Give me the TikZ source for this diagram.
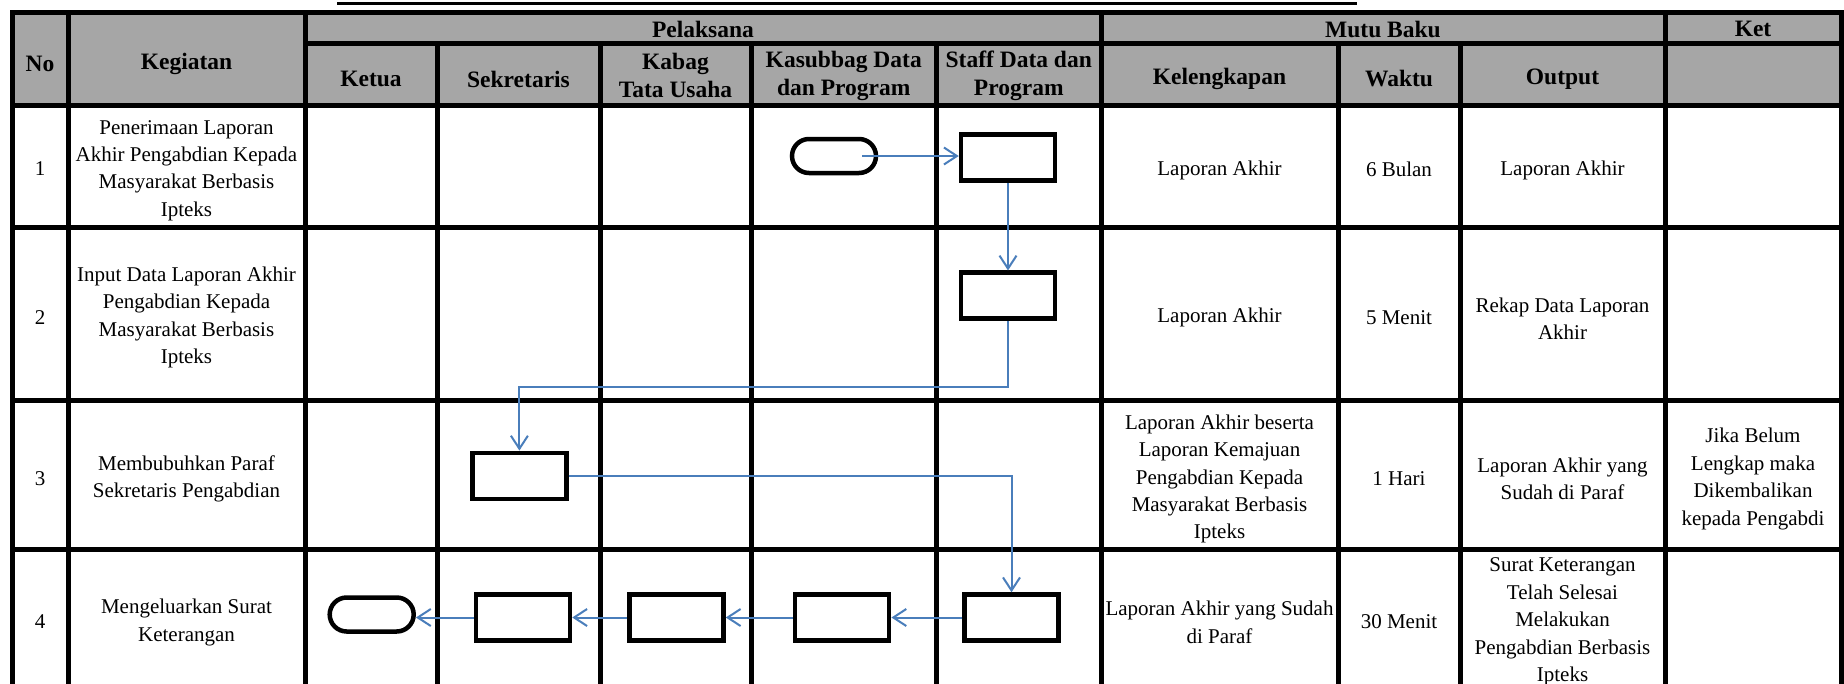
\documentclass[tikz,border=0pt]{standalone}
\usepackage{fontspec}
\setmainfont{Liberation Serif}
\usetikzlibrary{arrows.meta}
\definecolor{hdr}{RGB}{166,166,166}
\definecolor{flowblue}{RGB}{74,126,187}
\begin{document}
\begin{tikzpicture}[x=1pt,y=-1pt,
  gridline/.style={line width=5pt,line cap=rect},
  hd/.style={font=\fontsize{23.5}{28}\selectfont\bfseries,align=center,inner sep=0pt},
  bd/.style={font=\fontsize{21}{27.4}\selectfont,align=center,inner sep=0pt},
  procbox/.style={draw=black,line width=4.5pt,fill=white,minimum width=94pt,minimum height=46pt,inner sep=0pt},
  termbox/.style={draw=black,line width=4.5pt,fill=white,rounded corners=17pt,minimum width=84pt,minimum height=34pt,inner sep=0pt},
  flow/.style={draw=flowblue,line width=2pt,-{Straight Barb[length=13pt,width=17pt]}}
]
\useasboundingbox (0,0) rectangle (1844,683);
\clip (0,0) rectangle (1844,683);
\fill[white] (0,0) rectangle (1844,683);
% header background
\fill[hdr] (12,12) rectangle (1841,105);
% decorative top line
\draw[line width=3pt] (337,3.5) -- (1357,3.5);
% horizontal grid lines
\draw[gridline] (12,12) -- (1841,12);
\draw[gridline] (305,43.5) -- (1841,43.5);
\foreach \yy in {105,227,400,549} \draw[gridline] (12,\yy) -- (1841,\yy);
% vertical grid lines
\foreach \xx in {12,68,305,1101,1665,1841} \draw[gridline] (\xx,12) -- (\xx,690);
\foreach \xx in {437,600,751,936.5,1338,1460} \draw[gridline] (\xx,43.5) -- (\xx,690);

% header texts
\node[hd] (hNo) at (40,64) {No};
\node[hd] (hKeg) at (186.5,64) {Kegiatan};
\node[hd] (hPel) at (703,29) {Pelaksana};
\node[hd] (hMutu) at (1383,29) {Mutu Baku};
\node[hd] (hKet) at (1753,29) {Ket};
\node[hd] (hKetua) at (371,79) {Ketua};
\node[hd] (hSek) at (518.5,79) {Sekretaris};
\node[hd] (hKabag) at (675.5,75.5) {Kabag\\Tata Usaha};
\node[hd] (hKasub) at (843.75,75.5) {Kasubbag Data\\dan Program};
\node[hd] (hStaff) at (1018.75,75.5) {Staff Data dan\\Program};
\node[hd] (hKel) at (1219.5,79) {Kelengkapan};
\node[hd] (hWaktu) at (1399,79) {Waktu};
\node[hd] (hOut) at (1562.5,79) {Output};

% row 1
\node[bd] (n1) at (40,169) {1};
\node[bd] (k1) at (186.5,170.5) {Penerimaan Laporan\\Akhir Pengabdian Kepada\\Masyarakat Berbasis\\Ipteks};
\node[bd] (l1) at (1219.5,170.5) {Laporan Akhir};
\node[bd] (w1) at (1399,169.5) {6 Bulan};
\node[bd] (o1) at (1562.5,170.5) {Laporan Akhir};
% row 2
\node[bd] (n2) at (40,318) {2};
\node[bd] (k2) at (186.5,317.5) {Input Data Laporan Akhir\\Pengabdian Kepada\\Masyarakat Berbasis\\Ipteks};
\node[bd] (l2) at (1219.5,317.5) {Laporan Akhir};
\node[bd] (w2) at (1399,317.5) {5 Menit};
\node[bd] (o2) at (1562.5,318.5) {Rekap Data Laporan\\Akhir};
% row 3
\node[bd] (n3) at (40,479) {3};
\node[bd] (k3) at (186.5,479) {Membubuhkan Paraf\\Sekretaris Pengabdian};
\node[bd] (l3) at (1219.5,479) {Laporan Akhir beserta\\Laporan Kemajuan\\Pengabdian Kepada\\Masyarakat Berbasis\\Ipteks};
\node[bd] (w3) at (1399,479) {1 Hari};
\node[bd] (o3) at (1562.5,479) {Laporan Akhir yang\\Sudah di Paraf};
\node[bd] (c3) at (1753,479) {Jika Belum\\Lengkap maka\\Dikembalikan\\kepada Pengabdi};
% row 4
\node[bd] (n4) at (40,621.5) {4};
\node[bd] (k4) at (186.5,622.5) {Mengeluarkan Surat\\Keterangan};
\node[bd] (l4) at (1219.5,622.5) {Laporan Akhir yang Sudah\\di Paraf};
\node[bd] (w4) at (1399,622) {30 Menit};
\node[bd] (o4) at (1562.5,622) {Surat Keterangan\\Telah Selesai\\Melakukan\\Pengabdian Berbasis\\Ipteks};

% flow shapes
\node[termbox] (t1) at (834,156) {};
\node[procbox] (r1) at (1008,157.5) {};
\node[procbox] (r2) at (1008,295.7) {};
\node[procbox] (r3) at (519.4,475.8) {};
\node[procbox] (r4s) at (1011.5,617.5) {};
\node[procbox] (r4k) at (842.2,617.5) {};
\node[procbox] (r4b) at (676.5,617.5) {};
\node[procbox] (r4e) at (523,617.5) {};
\node[termbox] (t2) at (371.7,614.5) {};

% connectors
\draw[flow] ([xshift=-16pt]t1.east) -- (r1.west |- t1.east);
\draw[flow] (r1.south) -- (r2.north);
\draw[flow] (r2.south) -- ++(0,66) -| (r3.north);
\draw[flow] (r3.east) -| (r4s.north);
\draw[flow] (r4s.west) -- (r4k.east);
\draw[flow] (r4k.west) -- (r4b.east);
\draw[flow] (r4b.west) -- (r4e.east);
\draw[flow] (r4e.west) -- (t2.east |- r4e.west);
\end{tikzpicture}
\end{document}
